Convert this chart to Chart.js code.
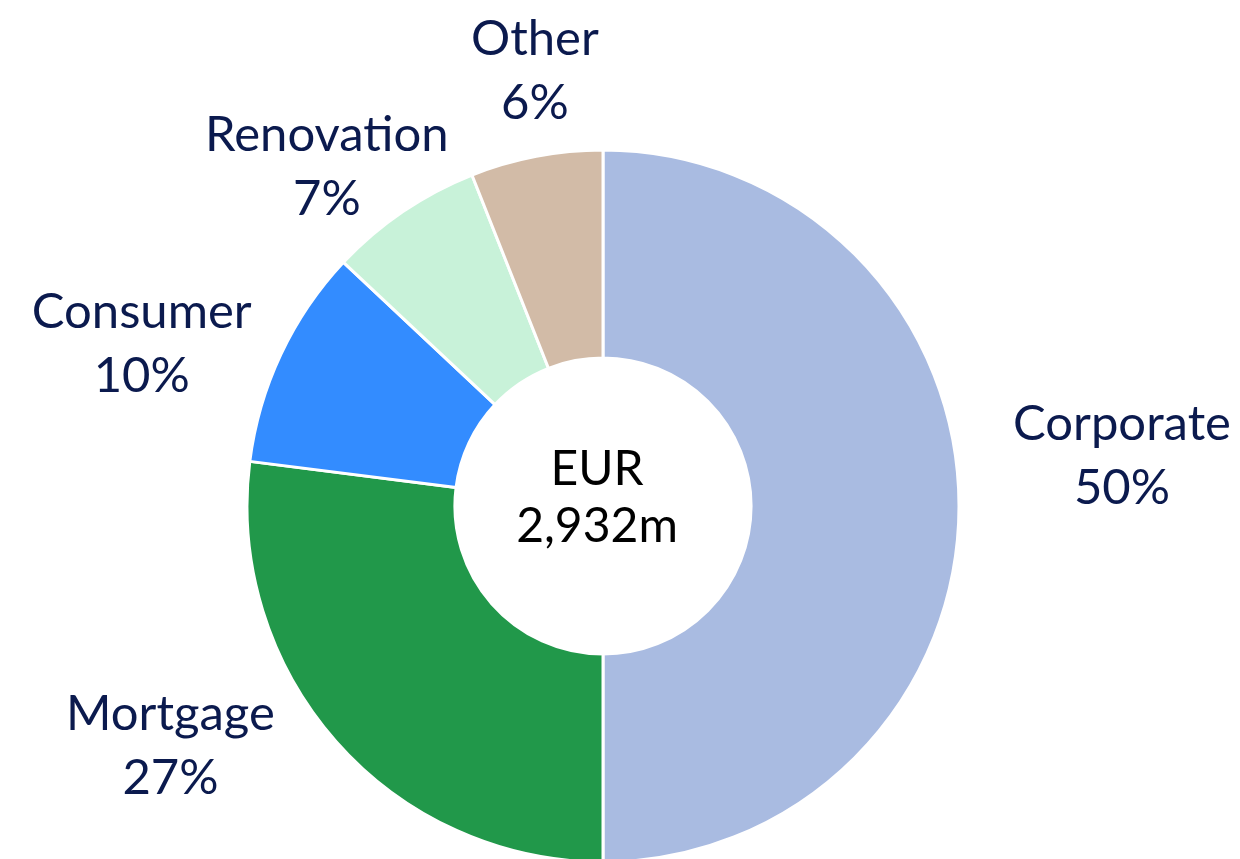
<!DOCTYPE html>
<html>
<head>
<meta charset="utf-8">
<script src="https://cdn.jsdelivr.net/npm/chart.js@4.4.1/dist/chart.umd.min.js"></script>
<style>
  html, body { margin: 0; padding: 0; background: #fff; }
  #wrap { width: 1240px; height: 859px; position: relative; }
</style>
</head>
<body>
<div id="wrap"><canvas id="loanChart" width="1240" height="859"></canvas></div>
<script>
// data
var categories = ['Corporate', 'Mortgage', 'Consumer', 'Renovation', 'Other'];
var shares = [50, 27, 10, 7, 6];
var sliceColors = ['#A9BBE1', '#21984A', '#338CFF', '#C8F2D9', '#D2BBA7'];
var centerLines = ['EUR', '2,932m'];

// the labels sit where they were dragged in the original, relative to each slice's middle
var labelNudge = [[49, -51], [-80, -72], [-36, 37], [-12, 49], [20, 26]];

var labelFont = '49px Lato';
var labelColor = '#0B1A4E';
var lineGap = 64;

var outsideLabels = {
    id: 'outsideLabels',
    afterDatasetsDraw: function (chart) {
        var c = chart.ctx;
        var meta = chart.getDatasetMeta(0);
        c.save();
        c.font = labelFont;
        c.fillStyle = labelColor;
        c.textAlign = 'center';
        c.textBaseline = 'alphabetic';
        meta.data.forEach(function (arc, i) {
            var p = arc.getProps(['x', 'y', 'startAngle', 'endAngle', 'outerRadius'], true);
            var mid = (p.startAngle + p.endAngle) / 2;
            var r = p.outerRadius + 114;
            var x = p.x + Math.cos(mid) * r + labelNudge[i][0];
            var y = p.y + Math.sin(mid) * r - 15 + labelNudge[i][1];
            c.fillText(categories[i], x, y);
            c.fillText(shares[i] + '%', x, y + lineGap);
        });
        // centre total
        var a = meta.data[0];
        c.font = '48px Lato';
        c.fillStyle = '#000';
        c.fillText(centerLines[0], a.x - 6, a.y - 21);
        c.fillText(centerLines[1], a.x - 6, a.y + 36);
        c.restore();
    }
};

var ctx = document.getElementById('loanChart').getContext('2d');
var myChart = new Chart(ctx, {
    type: 'doughnut',
    data: {
        labels: categories,
        datasets: [{
            data: shares,
            backgroundColor: sliceColors,
            borderColor: '#FFFFFF',
            borderWidth: 3
        }]
    },
    options: {
        responsive: false,
        animation: false,
        radius: 356,
        cutout: '41.6%',
        layout: { padding: { top: 250, bottom: 97, left: 250, right: 284 } },
        plugins: {
            legend: { display: false },
            tooltip: { enabled: false }
        }
    },
    plugins: [outsideLabels]
});
</script>
</body>
</html>
